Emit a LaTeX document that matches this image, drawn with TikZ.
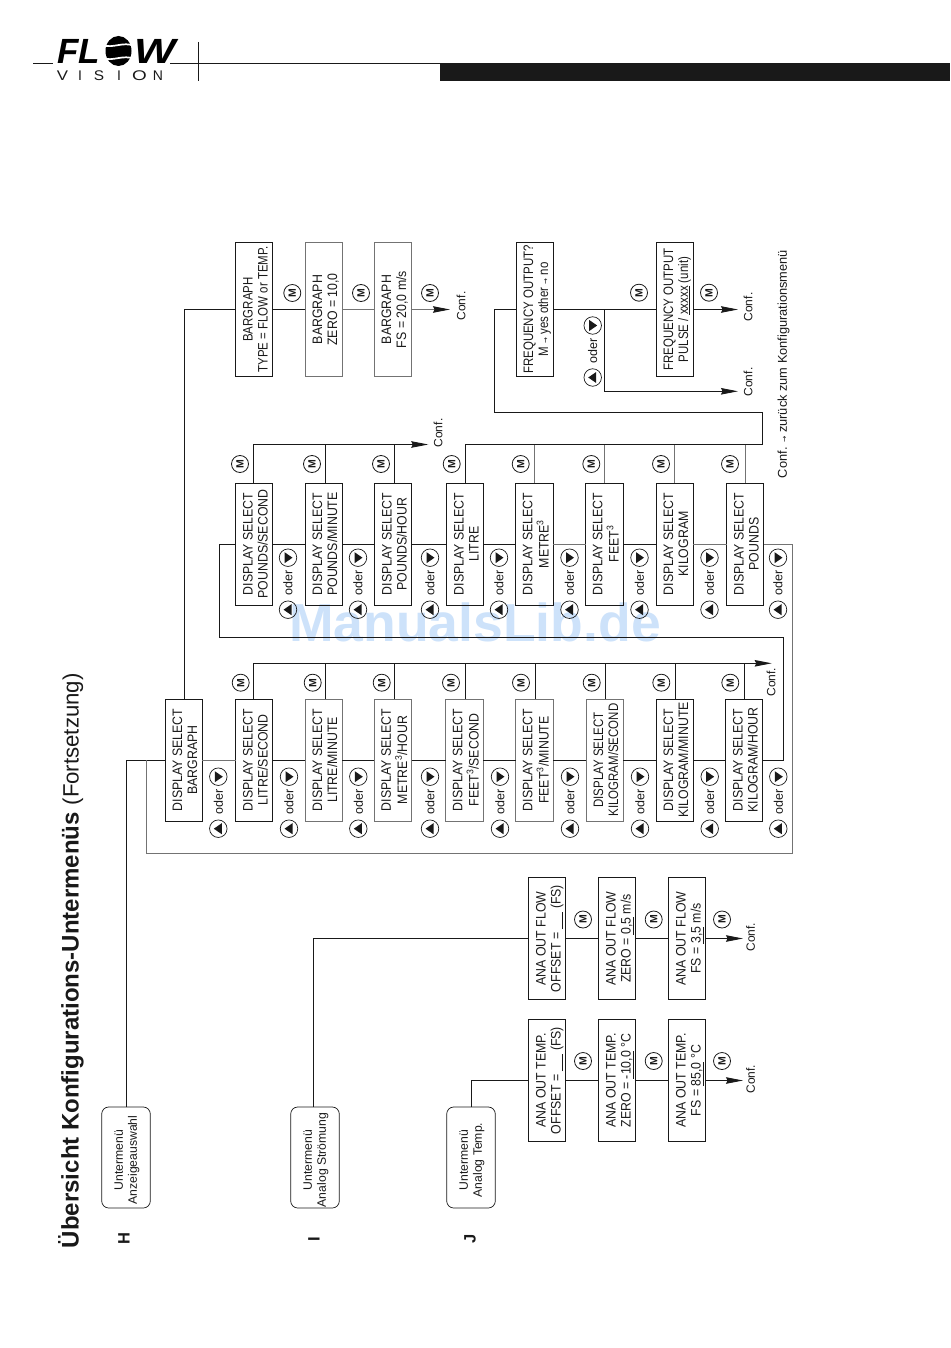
\documentclass[tikz,border=0pt]{standalone}
\usepackage{fontspec}
\setmainfont{Liberation Sans}
\newfontfamily\boxf[FakeStretch=0.9]{Liberation Sans}
\newfontfamily\arrowf{DejaVu Sans}
\usetikzlibrary{arrows.meta}
\definecolor{ink}{gray}{0.1}
\definecolor{soft}{gray}{0.45}
\newcommand{\rt}[1]{\kern2pt\raisebox{-2.5pt}[\height][\depth]{\rotatebox{90}{\begin{tabular}{@{}c@{}}#1\end{tabular}}}}
\newcommand{\bt}[1]{\kern6pt\rotatebox{90}{\begin{tabular}{@{}c@{}}#1\end{tabular}}}
\newcommand{\bn}[1]{\kern6pt\rotatebox{90}{\scalebox{.93}[1]{\begin{tabular}{@{}c@{}}#1\end{tabular}}}}
\newcommand{\sarr}{{\arrowf\fontsize{7.5}{8}\selectfont→}}
\tikzset{
  x=1pt,y=-1pt,
  every node/.style={inner sep=0pt,outer sep=0pt,text=ink},
  wire/.style={draw=ink,line width=0.9pt},
  softwire/.style={draw=soft,line width=1pt},
  flow/.style={wire,-{Stealth[length=17pt,width=6.5pt,inset=1.5pt]}},
  softflow/.style={softwire,-{Stealth[length=17pt,width=6.5pt,inset=1.5pt,color=ink]}},
  dbox/.style={draw=ink,line width=1pt,minimum width=37pt,minimum height=122pt,font=\boxf\fontsize{13.7}{15}\selectfont},
  gbox/.style={dbox,draw=soft},
  tbox/.style={dbox,minimum height=134pt},
  tgbox/.style={tbox,draw=soft},
  menu/.style={draw=ink,line width=0.7pt,rounded corners=7pt,minimum width=48.6pt,minimum height=101pt,font=\fontsize{12.2}{14}\selectfont},
  keym/.style={circle,draw=ink,line width=0.8pt,minimum size=17pt,font=\bfseries\fontsize{10.5}{11}\selectfont},
  keyup/.style={circle,draw=ink,line width=0.7pt,minimum size=17.5pt,path picture={\fill[ink] (path picture bounding box.center) +(-4.5,0) -- +(3.5,-5.5) -- +(3.5,5.5) -- cycle;}},
  keydn/.style={circle,draw=ink,line width=0.7pt,minimum size=17.5pt,path picture={\fill[ink] (path picture bounding box.center) +(4.5,0) -- +(-3.5,-5.5) -- +(-3.5,5.5) -- cycle;}},
  oder/.style={font=\fontsize{12.5}{13}\selectfont},
  conf/.style={font=\fontsize{12}{13}\selectfont},
  logo/.style={font=\bfseries\itshape\fontsize{35}{35}\selectfont,text=black},
  vis/.style={font=\fontsize{14}{14}\selectfont},
  letter/.style={font=\bfseries\fontsize{16.5}{17}\selectfont},
}
\newcommand{\M}{\rotatebox{90}{M}}
\newcommand{\oderkeys}[3]{% x, y of the upper circle, name
  \node[keyup] (#3u) at (#1,#2+52) {};
  \node[keydn] (#3d) at (#1,#2) {};
  \node[oder] (#3o) at (#1,#2+25) {\rotatebox{90}{oder}};
}
\begin{document}
\begin{tikzpicture}
\useasboundingbox (0,0) rectangle (950,1348);
% watermark
\node[font=\bfseries\fontsize{53.5}{54}\selectfont,text={rgb,255:red,205;green,226;blue,250}] (wm) at (475,622) {ManualsLib.de};
% header
\coordinate (h1) at (33,63.5); \coordinate (h2) at (53,63.5);
\coordinate (h3) at (170,63.5); \coordinate (h4) at (440,63.5);
\coordinate (h5) at (198,42); \coordinate (h6) at (198,81);
\draw[wire] (h1) -- (h2) (h3) -- (h4) (h5) -- (h6);
\fill[ink] (440,63.5) rectangle (950,81);
\node[anchor=west,logo] (logoa) at (57,51) {FL};
\node[anchor=west,logo] (logob) at (134,51) {\scalebox{1.25}[1]{W}};
\fill[black] (118.5,51) ellipse (13 and 15);
\draw[white,line width=1.7pt] (103,45) .. controls (112,49) and (124,41) .. (134,46);
\draw[white,line width=1.7pt] (103,58) .. controls (112,62) and (124,54) .. (134,59);
\node[anchor=center,vis] (v1) at (62.5,75.5) {\scalebox{1.2}[1]{V}};
\node[anchor=center,vis] (v2) at (80,75.5) {I};
\node[anchor=center,vis] (v3) at (99,75.5) {\scalebox{1.1}[1]{S}};
\node[anchor=center,vis] (v4) at (119,75.5) {I};
\node[anchor=center,vis] (v5) at (139.5,75.5) {\scalebox{1.35}[1]{O}};
\node[anchor=center,vis] (v6) at (158,75.5) {N};
% title
\node[anchor=west,rotate=90,font=\fontsize{24}{24}\selectfont] (title) at (71,1248) {\textbf{Übersicht Konfigurations-Untermenüs} {\fontsize{22.2}{24}\selectfont (Fortsetzung)}};
\node[letter] (lh) at (124,1239) {\rotatebox{90}{H}};
\node[letter] (li) at (314,1239) {\rotatebox{90}{I}};
\node[letter] (lj) at (470,1239) {\rotatebox{90}{J}};
% menus
\node[menu] (H) at (126,1157.5) {\rt{Untermenü\\Anzeigeauswahl}};
\node[menu] (I) at (315,1157.5) {\rt{Untermenü\\Analog Strömung}};
\node[menu] (J) at (471,1157.5) {\rt{Untermenü\\Analog Temp.}};
% row 1
\def\ry{760}
\node[dbox] (a0) at (183.5,\ry) {\bt{DISPLAY SELECT\\BARGRAPH}};
\node[dbox] (a1) at (254,\ry) {\bt{DISPLAY SELECT\\LITRE/SECOND}};
\node[gbox] (a2) at (323.5,\ry) {\bt{DISPLAY SELECT\\LITRE/MINUTE}};
\node[gbox] (a3) at (393,\ry) {\bt{DISPLAY SELECT\\METRE\textsuperscript{3}/HOUR}};
\node[gbox] (a4) at (464.5,\ry) {\bt{DISPLAY SELECT\\FEET\textsuperscript{3}/SECOND}};
\node[gbox] (a5) at (534.5,\ry) {\bt{DISPLAY SELECT\\FEET\textsuperscript{3}/MINUTE}};
\node[gbox] (a6) at (604.5,\ry) {\bn{DISPLAY SELECT\\KILOGRAM/SECOND}};
\node[dbox] (a7) at (674.5,\ry) {\bt{DISPLAY SELECT\\KILOGRAM/MINUTE}};
\node[dbox] (a8) at (744,\ry) {\bt{DISPLAY SELECT\\KILOGRAM/HOUR}};
% row 2
\def\sy{544}
\node[dbox] (b1) at (254,\sy) {\bt{DISPLAY SELECT\\POUNDS/SECOND}};
\node[dbox] (b2) at (323.5,\sy) {\bt{DISPLAY SELECT\\POUNDS/MINUTE}};
\node[dbox] (b3) at (393,\sy) {\bt{DISPLAY SELECT\\POUNDS/HOUR}};
\node[dbox] (b4) at (465,\sy) {\bt{DISPLAY SELECT\\LITRE}};
\node[dbox] (b5) at (534.5,\sy) {\bt{DISPLAY SELECT\\METRE\textsuperscript{3}}};
\node[dbox] (b6) at (604.5,\sy) {\bt{DISPLAY SELECT\\FEET\textsuperscript{3}}};
\node[dbox] (b7) at (674.5,\sy) {\bt{DISPLAY SELECT\\KILOGRAM}};
\node[dbox] (b8) at (745,\sy) {\bt{DISPLAY SELECT\\POUNDS}};
% row 0
\def\ty{309.5}
\node[tbox] (c1) at (254,\ty) {\bn{BARGRAPH\\TYPE = FLOW or TEMP.}};
\node[tgbox] (c2) at (323.5,\ty) {\bt{BARGRAPH\\ZERO = 10,0}};
\node[tgbox] (c3) at (392.5,\ty) {\bt{BARGRAPH\\FS = 20,0 m/s}};
\node[tbox] (f1) at (534.5,\ty) {\bn{FREQUENCY OUTPUT?\\M \sarr{} yes other \sarr{} no}};
\node[tbox] (f2) at (674.5,\ty) {\bn{FREQUENCY OUTPUT\\PULSE / \underline{xxxxx} (unit)}};
% ANA
\def\fy{938.5}\def\gy{1080.5}
\node[dbox] (p1) at (547,\fy) {\bt{ANA OUT FLOW\\OFFSET = \underline{\hspace{17pt}} (FS)}};
\node[dbox] (p2) at (617,\fy) {\bt{ANA OUT FLOW\\ZERO = \underline{0,5} m/s}};
\node[dbox] (p3) at (687,\fy) {\bt{ANA OUT FLOW\\FS = \underline{3,5} m/s}};
\node[dbox] (q1) at (547,\gy) {\bt{ANA OUT TEMP.\\OFFSET = \underline{\hspace{17pt}} (FS)}};
\node[dbox] (q2) at (617,\gy) {\bt{ANA OUT TEMP.\\ZERO = \underline{-10,0} °C}};
\node[dbox] (q3) at (687,\gy) {\bt{ANA OUT TEMP.\\FS = \underline{85,0} °C}};
% named bends and ends
\coordinate (busa) at (126.7,760);
\coordinate (busb) at (146,760);
\coordinate (busc) at (146,853);
\coordinate (busd) at (792.7,853);
\coordinate (buse) at (792.7,544);
\coordinate (loopa) at (783,760);
\coordinate (loopb) at (783,637);
\coordinate (loopc) at (219.3,637);
\coordinate (loopd) at (219.3,544);
\coordinate (topa) at (184.5,309.5);
\coordinate (tipc) at (450,309.5);
\coordinate (tipa) at (771.7,663.3);
\coordinate (baa) at (253.3,663.3);
\coordinate (tipb) at (428.3,444.5);
\coordinate (bba) at (253.3,444.5);
\coordinate (bca) at (465.7,444.5);
\coordinate (bcb) at (762.3,444.5);
\coordinate (bcc) at (762.3,412.3);
\coordinate (bcd) at (494.7,412.3);
\coordinate (bce) at (494.7,309.5);
\coordinate (tipf) at (738,309.5);
\coordinate (fbr) at (604.3,309.5);
\coordinate (fbs) at (604.3,391.3);
\coordinate (tipg) at (738,391.3);
\coordinate (tiph) at (743,938.5);
\coordinate (tipi) at (743,1080.5);
\coordinate (ia) at (313.7,938.5);
\coordinate (ja) at (471.3,1080.5);
% connectors
\draw[wire] (H.north -| busa) -- (busa) -- (a0.west |- busa);
\draw[softwire] (busb) -- (busc) -- (busd) -- (buse) -- (b8.east);
\draw[softwire] (a0.east) -- (a1.west);
\draw[wire] (a1.east) -- (a2.west);
\draw[wire] (a2.east) -- (a3.west);
\draw[wire] (a3.east) -- (a4.west);
\draw[wire] (a4.east) -- (a5.west);
\draw[wire] (a5.east) -- (a6.west);
\draw[wire] (a6.east) -- (a7.west);
\draw[wire] (a7.east) -- (a8.west);
\draw[wire] (a8.east) -- (loopa) -- (loopb) -- (loopc) -- (loopd) -- (b1.west);
\draw[wire] (b1.east) -- (b2.west);
\draw[wire] (b2.east) -- (b3.west);
\draw[wire] (b3.east) -- (b4.west);
\draw[wire] (b4.east) -- (b5.west);
\draw[softwire] (b5.east) -- (b6.west);
\draw[wire] (b6.east) -- (b7.west);
\draw[softwire] (b7.east) -- (b8.west);
\draw[wire] (a0.north -| topa) -- (topa) -- (c1.west);
\draw[wire] (c1.east) -- (c2.west);
\draw[softwire] (c2.east) -- (c3.west);
\draw[softflow] (c3.east) -- (tipc);
\draw[wire] (baa) -- (a1.north -| baa) (a2.north -| 325.3,0) -- (325.3,663.3) (a3.north -| 394.3,0) -- (394.3,663.3)
  (a4.north -| 465.3,0) -- (465.3,663.3) (a5.north -| 535.3,0) -- (535.3,663.3)
  (a6.north -| 605.3,0) -- (605.3,663.3) (a7.north -| 675.3,0) -- (675.3,663.3) (a8.north -| 744.3,0) -- (744.3,663.3);
\draw[flow] (baa) -- (tipa);
\draw[wire] (bba) -- (b1.north -| bba) (b2.north -| 325.3,0) -- (325.3,444.5) (b3.north -| 394.3,0) -- (394.3,444.5);
\draw[flow] (bba) -- (tipb);
\draw[wire] (b4.north -| bca) -- (bca) -- (bcb) -- (bcc) -- (bcd) -- (bce) -- (f1.west);
\draw[softwire] (b5.north) -- (b5.north |- bca) (b6.north) -- (b6.north |- bca) (b7.north) -- (b7.north |- bca) (b8.north) -- (b8.north |- bca);
\draw[wire] (f1.east) -- (f2.west);
\draw[flow] (f2.east) -- (tipf);
\draw[flow] (fbr) -- (fbs) -- (tipg);
\draw[wire] (I.north -| ia) -- (ia) -- (p1.west);
\draw[wire] (p1.east) -- (p2.west);
\draw[wire] (p2.east) -- (p3.west);
\draw[flow] (p3.east) -- (tiph);
\draw[wire] (J.north -| ja) -- (ja) -- (q1.west);
\draw[wire] (q1.east) -- (q2.west);
\draw[wire] (q2.east) -- (q3.west);
\draw[flow] (q3.east) -- (tipi);
% M keys
\foreach \n/\x/\y in {m1/240.7/682.7,m2/312.7/682.7,m3/381.7/682.7,m4/451/682.7,m5/521/682.7,m6/591.7/682.7,m7/661.3/682.7,m8/730.3/682.7,
  m9/240/464,m10/312/464,m11/381/464,m12/451.7/464,m13/520.7/464,m14/591.3/464,m15/661/464,m16/730/464,
  m17/292.3/293,m18/361/293,m19/430/293,m20/639/292.7,m21/709/292.7,
  m22/583/919.5,m23/653.7/919.5,m24/722/919.5,m25/583/1061,m26/653.7/1061,m27/722/1061}
  \node[keym] (\n) at (\x,\y) {\M};
% oder keys
\foreach \n/\x in {k0/218.3,k1/289,k2/358.3,k3/430,k4/500,k5/570,k6/640,k7/709.7,k8/778.3}
  \oderkeys{\x}{776.7}{\n};
\foreach \n/\x in {l1/288,l2/358,l3/430,l4/499,l5/569.5,l6/639.5,l7/709.5,l8/778}
  \oderkeys{\x}{557.7}{\n};
\oderkeys{592.7}{325.5}{kf}
% Conf labels
\foreach \n/\x/\y in {cf1/461/306,cf2/438/433,cf3/771/682,cf4/748/307,cf5/748/382,cf6/750.5/937,cf7/750.5/1079}
  \node[conf] (\n) at (\x,\y) {\rotatebox{90}{Conf.}};
\node[anchor=west,rotate=90,font=\fontsize{12.8}{13}\selectfont] (back) at (783.5,478) {Conf. \sarr{} zurück zum Konfigurationsmenü};
\end{tikzpicture}
\end{document}
